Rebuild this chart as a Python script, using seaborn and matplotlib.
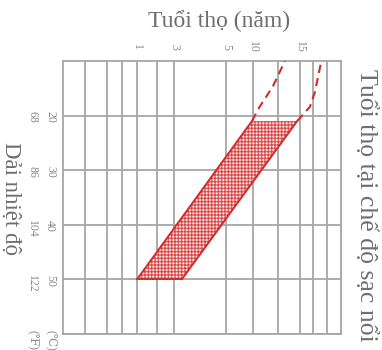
import numpy as np
import matplotlib
matplotlib.use("Agg")
import matplotlib.pyplot as plt
import seaborn as sns

# Float-service life band: temperature (°C) at its two ends and the
# shortest / longest expected life (years) at those temperatures
band_temp = [50, 21]
life_low = [1.0, 9.8]
life_high = [3.3, 14.7]

# Dashed continuation of the band towards cooler temperatures
ext_low_temp = [21, 18.4, 14.7, 10]
ext_low_life = [9.8, 10.7, 12.1, 13.4]
ext_high_temp = [21, 18.4, 15.8, 10]
ext_high_life = [14.7, 16.2, 16.8, 17.6]

life_ticks = [1, 3, 5, 10, 15]
temp_ticks_c = [20, 30, 40, 50]
temp_ticks_f = [68, 86, 104, 122]

title_text = "Tuổi thọ (năm)"
left_text = "Dải nhiệt độ"
right_text = "Tuổi thọ tại chế độ sạc nổi"

# Non-uniform life axis: year value -> fraction of the axis width
year_knots = [0, 1, 3, 5, 10, 15, 20]
pos_knots = [0.0, 0.2662, 0.3993, 0.5863, 0.6835, 0.8525, 1.0]
minor_pos = [0.0791, 0.1583, 0.2122, 0.3381, 0.7734, 0.8993, 0.9496]


def life_fwd(v):
    return np.interp(v, year_knots, pos_knots)


def life_inv(p):
    return np.interp(p, pos_knots, year_knots)


sns.set_theme(style="white")
serif = ["Liberation Serif", "DejaVu Serif"]
plt.rcParams["font.family"] = serif
plt.rcParams["hatch.linewidth"] = 1.2

red = "#d42a2a"
grid_c = "#a6a6a6"
text_c = "#6e6e6e"
tick_c = "#8a8a8a"

fig = plt.figure(figsize=(3.82, 3.5), dpi=100)
ax = fig.add_axes([63 / 382, 1 - 334 / 350, 278 / 382, 273 / 350])
ax.set_xscale("function", functions=(life_fwd, life_inv))
ax.set_xlim(0, 20)
ax.set_ylim(60, 10)

# Hatched band (two crossing hatches give the dotted red texture)
hatch_c = (0.82, 0.1, 0.1, 0.62)
ax.fill_betweenx(band_temp, life_low, life_high, facecolor="white",
                 edgecolor=hatch_c, hatch="|||||", linewidth=0, zorder=2)
ax.fill_betweenx(band_temp, life_low, life_high, facecolor="none",
                 edgecolor=hatch_c, hatch="-----", linewidth=0, zorder=2)

sns.lineplot(x=life_low, y=band_temp, sort=False, estimator=None,
             color=red, lw=1.4, ax=ax, zorder=3)
sns.lineplot(x=life_high, y=band_temp, sort=False, estimator=None,
             color=red, lw=1.4, ax=ax, zorder=3)
sns.lineplot(x=[life_low[0], life_high[0]], y=[band_temp[0], band_temp[0]],
             sort=False, estimator=None, color=red, lw=1.4, ax=ax, zorder=3)

for xs, ys in ((ext_low_life, ext_low_temp), (ext_high_life, ext_high_temp)):
    sns.lineplot(x=xs, y=ys, sort=False, estimator=None, color=red,
                 lw=1.5, ls=(0, (4, 2.5)), ax=ax, zorder=3)

ax.set_xlabel("")
ax.set_ylabel("")

# Grid
ax.set_xticks(life_ticks, labels=[str(v) for v in life_ticks])
ax.set_xticks(life_inv(np.array(minor_pos)), minor=True)
ax.xaxis.tick_top()
ax.tick_params(axis="x", which="both", length=0, pad=10, labelsize=8.5,
               labelrotation=-90, labelcolor=tick_c)
for lbl in ax.get_xticklabels():
    lbl.set_va("center")
ax.set_yticks(temp_ticks_c + [60],
              labels=[str(v) for v in temp_ticks_c] + ["(℃)"])
ax.tick_params(axis="y", length=0, pad=5, labelsize=8.5, labelrotation=-90,
               labelcolor=tick_c)
ax.grid(True, which="both", axis="x", color=grid_c, lw=1.3)
ax.grid(True, which="major", axis="y", color=grid_c, lw=1.3)
for sp in ax.spines.values():
    sp.set_color(grid_c)
    sp.set_linewidth(1.3)

# Fahrenheit scale alongside the Celsius one
sec = ax.secondary_yaxis("left", functions=(lambda c: c * 9 / 5 + 32,
                                            lambda f: (f - 32) * 5 / 9))
sec.set_yticks(temp_ticks_f + [140],
               labels=[str(v) for v in temp_ticks_f] + ["(℉)"])
sec.tick_params(axis="y", length=0, pad=18, labelsize=8.5, labelrotation=-90,
                labelcolor=tick_c)
sec.spines["left"].set_visible(False)

fig.text(219 / 382, 1 - 21 / 350, title_text, ha="center", va="center",
         fontsize=17, color=text_c, family=serif)
fig.text(11 / 382, 1 - 198 / 350, left_text, ha="center", va="center",
         rotation=-90, fontsize=16.5, color=text_c, family=serif)
fig.text(366 / 382, 1 - 205 / 350, right_text, ha="center", va="center",
         rotation=-90, fontsize=18.5, color=text_c, family=serif)

fig.savefig("out.png", dpi=100)
